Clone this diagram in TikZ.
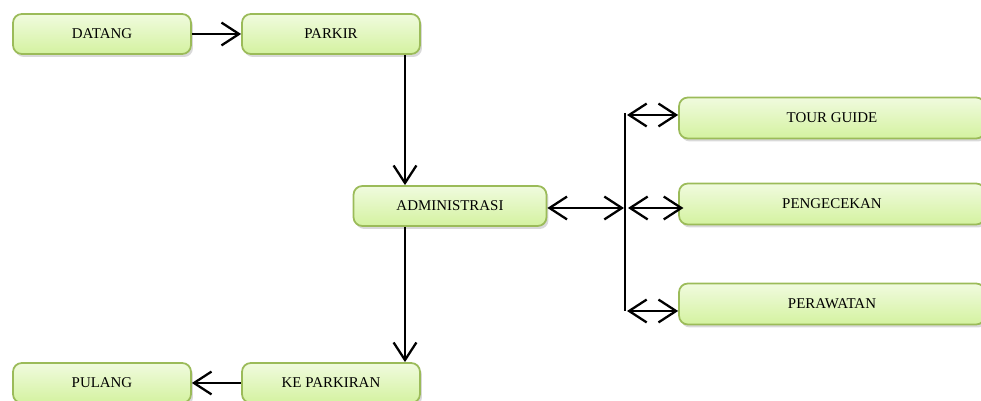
\documentclass[tikz,border=0pt]{standalone}
\usepackage{fontspec}
\setmainfont{Liberation Serif}
\usetikzlibrary{arrows.meta,shadows}
\definecolor{box_top}{RGB}{240, 251, 222}
\definecolor{box_bot}{RGB}{212, 242, 160}
\definecolor{box_line}{RGB}{155, 187, 89}
\tikzstyle{box}=[rectangle,rounded corners=5pt,top color=box_top,bottom color=box_bot,
  draw=box_line,line width=1pt,minimum width=3.56cm,minimum height=0.8cm,
  font=\fontsize{8.5}{10}\selectfont,drop shadow={shadow xshift=0.4mm,shadow yshift=-0.6mm,opacity=0.3}]
\tikzstyle{wide}=[box,minimum width=6.12cm,minimum height=0.82cm]
\tikzstyle{flow}=[line width=1.3pt,-{Straight Barb[length=10pt,width=13pt,line width=1.3pt]}]
\tikzstyle{both}=[line width=1.3pt,{Straight Barb[length=10pt,width=13pt,line width=1.3pt]}-{Straight Barb[length=10pt,width=13pt,line width=1.3pt]}]

\begin{document}
\begin{tikzpicture}[x=0.02cm,y=-0.02cm]
        \useasboundingbox (0,0) rectangle (981,401);
        \node [style=box] (d) at (102,34) {DATANG};
        \node [style=box] (p) at (331,34) {PARKIR};
        \node [style=box,minimum width=3.86cm] (a) at (450,206) {ADMINISTRASI};
        \node [style=box] (k) at (331,383) {KE PARKIRAN};
        \node [style=box] (u) at (102,383) {PULANG};
        \node [style=wide] (t) at (832,118) {TOUR GUIDE};
        \node [style=wide] (c) at (832,204) {PENGECEKAN};
        \node [style=wide] (w) at (832,304) {PERAWATAN};
        \coordinate (v) at (405,0);
        \coordinate (bt) at (625,113);
        \coordinate (bb) at (625,311);
        \coordinate (j0) at (624,208);
        \coordinate (j1) at (627,115);
        \coordinate (j2) at (628,208);
        \coordinate (j3) at (627,311);
        \draw [style=flow] (d) to (p);
        \draw [style=flow] (p.south -| v) to (a.north -| v);
        \draw [style=flow] (a.south -| v) to (k.north -| v);
        \draw [style=flow] (k) to (u);
        \draw [line width=1.3pt] (bt) to (bb);
        \draw [style=both] (a.east |- j0) to (j0);
        \draw [style=both] (j1) to (t.west |- j1);
        \draw [style=both] (j2) to ([xshift=3pt]c.west |- j2);
        \draw [style=both] (j3) to (w.west |- j3);
    \end{tikzpicture}
\end{document}
